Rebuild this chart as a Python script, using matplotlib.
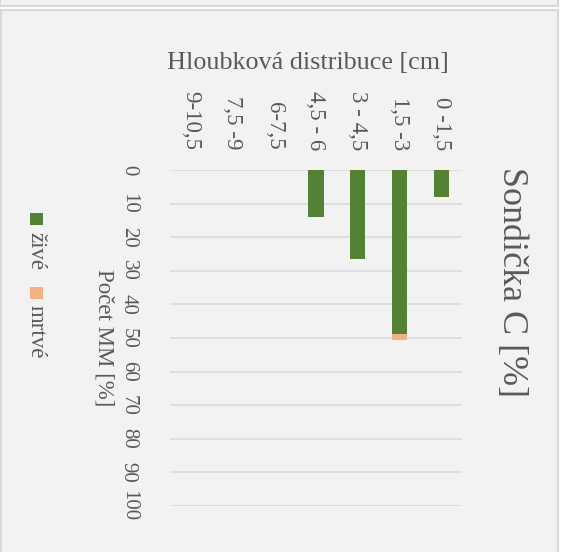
import matplotlib.pyplot as plt
from matplotlib.patches import Rectangle
import numpy as np

plt.rcParams['font.family'] = ['Liberation Serif', 'DejaVu Serif']

categories = ["9-10,5", "7,5 -9", "6-7,5", "4,5 - 6", "3 - 4,5", "1,5 -3", "0 -1,5"]
zive = [0, 0, 0, 13.9, 26.4, 48.8, 8.1]
mrtve = [0, 0, 0, 0, 0, 1.8, 0]
yticks = [0, 10, 20, 30, 40, 50, 60, 70, 80, 90, 100]

GREEN = "#548235"
ORANGE = "#f4b183"
TXT = "#595959"
GRID = "#d9d9d9"

W, H = 565, 552
fig = plt.figure(figsize=(W / 100, H / 100), dpi=100)
fig.patch.set_facecolor("white")

# panel frames (pixel coords -> figure coords)
def px(x, y):
    return x / W, 1 - y / H

for (x0, y0, x1, y1) in [(0, -20, 558, 5.5), (0.5, 9.5, 558, 560)]:
    fx, fy = px(x0, y1)
    fig.patches.append(Rectangle((fx, fy), (x1 - x0) / W, (y1 - y0) / H,
                                 transform=fig.transFigure, facecolor="#f2f2f2",
                                 edgecolor=GRID, linewidth=1.5, zorder=-5))

ax = fig.add_axes([170 / W, 1 - 506 / H, (462 - 170) / W, (506 - 170) / H])
ax.set_zorder(2)
ax.set_facecolor("none")
x = np.arange(len(categories))
ax.bar(x, zive, width=0.36, color=GREEN, zorder=3)
ax.bar(x, mrtve, width=0.36, bottom=zive, color=ORANGE, zorder=3)

ax.set_xlim(-0.5, len(categories) - 0.5)
ax.set_ylim(100, 0)
ax.set_yticks(yticks)
ax.set_yticklabels([str(v) for v in yticks], rotation=-90, color=TXT, fontsize=15,
                   va="center", ha="center")
ax.tick_params(axis="y", length=0, pad=30)
ax.set_xticks([])
for i, c in enumerate(categories):
    ax.text(i, -6, c, rotation=-90, ha="center", va="bottom", fontsize=16.5,
            color=TXT)
ax.grid(axis="y", color=GRID, linewidth=1.1, zorder=0)
for s in ax.spines.values():
    s.set_visible(False)

fig.text(*px(308, 63), "Hloubková distribuce [cm]", ha="center", va="center",
         fontsize=18.8, color=TXT)
fig.text(*px(104, 338), "Počet MM [%]", ha="center", va="center", rotation=-90,
         fontsize=16.5, color=TXT)
fig.text(*px(512, 282), "Sondička C [%]", ha="center", va="center", rotation=-90,
         fontsize=26, color=TXT)

# legend, rotated
for (sy, ty, col, lab) in [(213, 232, GREEN, "živé"), (287, 305, ORANGE, "mrtvé")]:
    fx, fy = px(30, sy + 12)
    fig.patches.append(Rectangle((fx, fy), 13 / W, 12 / H, transform=fig.transFigure,
                                 facecolor=col, edgecolor="none"))
    fig.text(*px(36, ty), lab, ha="center", va="top", rotation=-90,
             fontsize=16.5, color=TXT)

fig.savefig("out.png", dpi=100)
